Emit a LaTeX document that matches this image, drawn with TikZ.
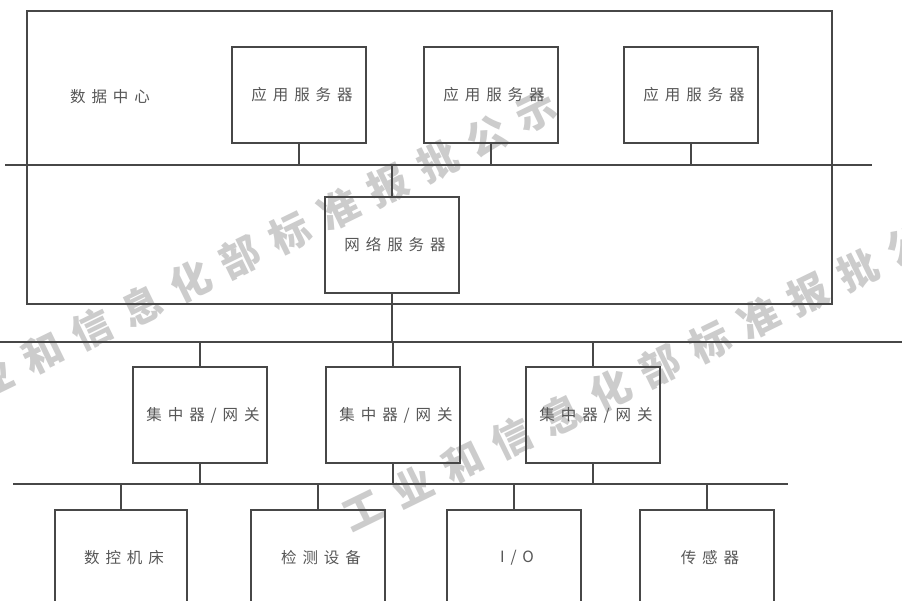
\documentclass[tikz,border=0pt]{standalone}
\usepackage{fontspec}
\newfontfamily\lab{Noto Sans CJK SC}[LetterSpace=38]
\newfontfamily\wmf{Noto Sans CJK SC}
\newcommand{\lbl}[1]{#1\kern-6pt}
\begin{document}
\begin{tikzpicture}[x=1pt,y=-1pt,
  box/.style={draw=black!72, line width=1.2pt, minimum width=134pt, minimum height=96pt,
    inner sep=0pt, text=black!66, font=\lab\fontsize{15.5}{18}\selectfont},
  plain/.style={text=black!66, inner sep=0pt, font=\lab\fontsize{15.5}{18}\selectfont},
  ln/.style={draw=black!72, line width=1.2pt},
  wm/.style={text=black!20, font=\wmf\bfseries\fontsize{40}{40}\selectfont, rotate=26, inner sep=0pt}]
\path[use as bounding box, clip] (0,0) rectangle (902,601);
\fill[white] (0,0) rectangle (902,601);
% watermark
\foreach \c [count=\i from 0] in {工,业,和,信,息,化,部,标,准,报,批,公,示} {
  \node[wm] (wa\i) at ({240+(\i-6)*49.4},{257-(\i-6)*24.1}) {\c};
  \node[wm] (wb\i) at ({660+(\i-6)*49.4},{366-(\i-6)*24.1}) {\c};
}
% data centre
\node[box, minimum width=805pt, minimum height=293pt] (dc) at (429.5,157.5) {};
\node[plain] (dclabel) at (107,97) {\lbl{数据中心}};
\node[box] (app1) at (299,95) {\lbl{应用服务器}};
\node[box] (app2) at (491,95) {\lbl{应用服务器}};
\node[box] (app3) at (691,95) {\lbl{应用服务器}};
\node[box] (net) at (392,245) {\lbl{网络服务器}};
% hubs
\node[box] (hub1) at (200,415) {\lbl{集中器/网关}};
\node[box] (hub2) at (393,415) {\lbl{集中器/网关}};
\node[box] (hub3) at (593,415) {\lbl{集中器/网关}};
% devices
\node[box, minimum width=132pt] (dev1) at (121,558) {\lbl{数控机床}};
\node[box] (dev2) at (318,558) {\lbl{检测设备}};
\node[box] (dev3) at (514,558) {\lbl{I/O}};
\node[box] (dev4) at (707,558) {\lbl{传感器}};
% buses
\coordinate (b1l) at (5,165);  \coordinate (b1r) at (872,165);
\coordinate (b2l) at (0,342);  \coordinate (b2r) at (902,342);
\coordinate (b3l) at (13,484); \coordinate (b3r) at (788,484);
\draw[ln] (b1l) -- (b1r);
\draw[ln] (b2l) -- (b2r);
\draw[ln] (b3l) -- (b3r);
% connectors
\foreach \n in {app1,app2,app3} \draw[ln] (\n.south) -- (\n.south |- b1l);
\draw[ln] (net.north) -- (net.north |- b1l);
\draw[ln] (net.south) -- (net.south |- b2l);
\foreach \n in {hub1,hub2,hub3} {
  \draw[ln] (\n.north) -- (\n.north |- b2l);
  \draw[ln] (\n.south) -- (\n.south |- b3l);
}
\foreach \n in {dev1,dev2,dev3,dev4} \draw[ln] (\n.north) -- (\n.north |- b3l);
\end{tikzpicture}
\end{document}
